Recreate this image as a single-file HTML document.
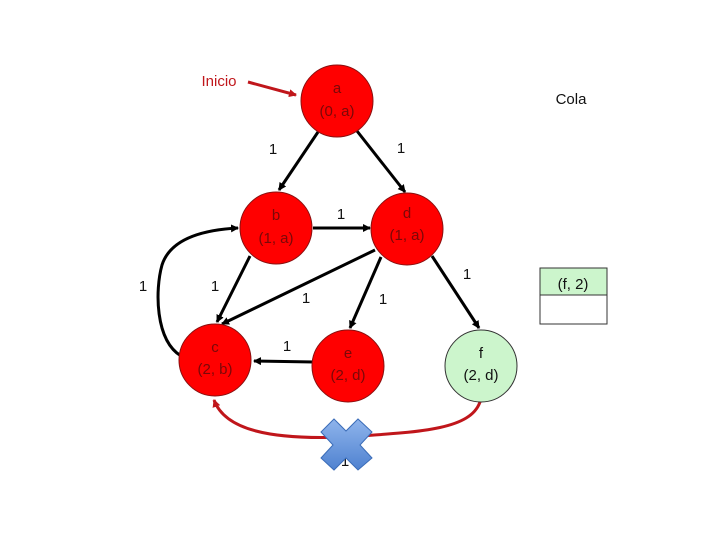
<!DOCTYPE html>
<html><head><meta charset="utf-8"><style>body{margin:0;background:#fff}svg{display:block}</style></head><body>
<svg width="720" height="540" viewBox="0 0 720 540" xmlns="http://www.w3.org/2000/svg" font-family="Liberation Sans, sans-serif">
<defs>
<marker id="ar" markerWidth="8" markerHeight="8" refX="7" refY="4" orient="auto" markerUnits="userSpaceOnUse"><path d="M0,0 L8,4 L0,8 z" fill="#000"/></marker>
<marker id="rr" markerWidth="8" markerHeight="8" refX="7" refY="4" orient="auto" markerUnits="userSpaceOnUse"><path d="M0,0 L8,4 L0,8 z" fill="#c0161b"/></marker>
<linearGradient id="xg" x1="0" y1="0" x2="0" y2="1"><stop offset="0" stop-color="#8fb4ec"/><stop offset="1" stop-color="#4f82d0"/></linearGradient>
</defs>
<g stroke="#000" stroke-width="3" fill="none" marker-end="url(#ar)">
<line x1="318" y1="132" x2="279" y2="190"/>
<line x1="357" y1="131" x2="405" y2="192"/>
<line x1="313" y1="228" x2="370" y2="228"/>
<line x1="250" y1="256" x2="217" y2="322"/>
<line x1="375" y1="250" x2="222" y2="324"/>
<line x1="381" y1="257" x2="350" y2="328"/>
<line x1="432" y1="256" x2="479" y2="328"/>
<line x1="314" y1="362" x2="254" y2="361"/>
<path d="M181,356 C155,340 155,290 162,265 C170,240 200,230 238,228"/>
</g>
<path d="M480,402 C470,430 420,432 345,437 C270,440 225,430 214,400" stroke="#c0161b" stroke-width="3" fill="none" marker-end="url(#rr)"/>
<line x1="248" y1="82" x2="296" y2="95" stroke="#c0161b" stroke-width="3" marker-end="url(#rr)"/>
<g stroke="#8a1010" stroke-width="1" fill="#f00">
<circle cx="337" cy="101" r="36"/>
<circle cx="276" cy="228" r="36"/>
<circle cx="407" cy="229" r="36"/>
<circle cx="215" cy="360" r="36"/>
<circle cx="348" cy="366" r="36"/>
</g>
<circle cx="481" cy="366" r="36" fill="#ccf5cc" stroke="#333" stroke-width="1"/>
<g font-size="15" fill="#7a0808" text-anchor="middle">
<text x="337" y="93">a</text><text x="337" y="116">(0, a)</text>
<text x="276" y="220">b</text><text x="276" y="243">(1, a)</text>
<text x="407" y="218">d</text><text x="407" y="240">(1, a)</text>
<text x="215" y="352">c</text><text x="215" y="374">(2, b)</text>
<text x="348" y="358">e</text><text x="348" y="380">(2, d)</text>
</g>
<g font-size="15" fill="#111" text-anchor="middle">
<text x="481" y="358">f</text><text x="481" y="380">(2, d)</text>
<text x="273" y="154">1</text><text x="401" y="153">1</text><text x="341" y="219">1</text>
<text x="215" y="291">1</text><text x="143" y="291">1</text><text x="306" y="303">1</text>
<text x="383" y="304">1</text><text x="467" y="279">1</text><text x="287" y="351">1</text>
<text x="345" y="466">1</text>
<text x="571" y="104">Cola</text>
<text x="573" y="289">(f, 2)</text>
</g>
<text x="219" y="86" font-size="15" fill="#c0161b" text-anchor="middle">Inicio</text>
<rect x="540" y="268" width="67" height="27" fill="#ccf5cc" stroke="#333" stroke-width="1"/>
<rect x="540" y="295" width="67" height="29" fill="#fff" stroke="#333" stroke-width="1"/>
<text x="573" y="289" font-size="15" fill="#111" text-anchor="middle">(f, 2)</text>
<path d="M334,419 L346,431 L358,419 L372,432 L360,445 L372,458 L358,470 L346,458 L334,470 L321,458 L333,445 L321,432 z" fill="url(#xg)" stroke="#3a6cb8" stroke-width="1"/>
</svg>
</body></html>
